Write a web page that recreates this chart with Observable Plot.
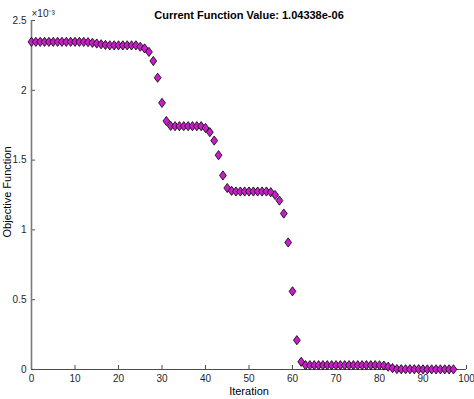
<!DOCTYPE html>
<html>
<head>
<meta charset="utf-8">
<script src="https://cdn.jsdelivr.net/npm/d3@7"></script>
<script src="https://cdn.jsdelivr.net/npm/@observablehq/plot@0.6"></script>
<style>
  html, body { margin: 0; padding: 0; background: #fff; }
  svg { font-family: "Liberation Sans", Arial, sans-serif; }
</style>
</head>
<body>
<div id="chart"></div>
<script>
// Objective function values (in units of 1e-3), iterations 0..97
const objective = [
  2.347, 2.347, 2.347, 2.347, 2.347, 2.347, 2.347, 2.347, 2.347, 2.347,
  2.347, 2.347, 2.347, 2.345, 2.340, 2.335, 2.330, 2.325, 2.322, 2.322,
  2.322, 2.322, 2.322, 2.322, 2.322, 2.312, 2.300, 2.275, 2.210, 2.090,
  1.910, 1.780, 1.745, 1.743, 1.743, 1.743, 1.743, 1.743, 1.743, 1.743,
  1.730, 1.700, 1.640, 1.535, 1.390, 1.300, 1.280, 1.275, 1.275, 1.275,
  1.275, 1.275, 1.275, 1.275, 1.275, 1.270, 1.250, 1.210, 1.117, 0.910,
  0.560, 0.210, 0.055, 0.031, 0.031, 0.031, 0.031, 0.031, 0.031, 0.031,
  0.031, 0.031, 0.031, 0.031, 0.031, 0.031, 0.031, 0.031, 0.031, 0.031,
  0.030, 0.028, 0.020, 0.010, 0.003, 0.002, 0.002, 0.002, 0.002, 0.002,
  0.001, 0.001, 0.001, 0.001, 0.001, 0.001, 0.001, 0.00104
];
const iterations = objective.map((_, i) => i);
const xTicks = [0, 10, 20, 30, 40, 50, 60, 70, 80, 90, 100];
const yTicks = [0, 0.5, 1, 1.5, 2, 2.5];
const yTickLabels = ["0", "0.5", "1", "1.5", "2", "2.5"];
const titleText = "Current Function Value: 1.04338e-06";
const xLabel = "Iteration";
const yLabel = "Objective Function";
const multiplier = "×10⁻³";

const data = iterations.map((it, i) => ({iteration: it, value: objective[i]}));

const diamond = {
  draw(context) {
    context.moveTo(0, -4.6);
    context.lineTo(3.4, 0);
    context.lineTo(0, 4.6);
    context.lineTo(-3.4, 0);
    context.closePath();
  }
};

const W = 474, H = 399, mL = 31, mR = 8, mT = 20, mB = 30;
const plotW = W - mL - mR, plotH = H - mT - mB;
const axisColor = "#4d4d4d";

const chart = Plot.plot({
  width: W,
  height: H,
  marginLeft: mL,
  marginRight: mR,
  marginTop: mT,
  marginBottom: mB,
  style: {fontFamily: "Liberation Sans, Arial, sans-serif", background: "#fff"},
  x: {domain: [0, 100]},
  y: {domain: [0, 2.5]},
  marks: [
    Plot.axisX({ticks: xTicks, tickSize: 0, tickPadding: 5, fontSize: 10, label: null, color: "#262626"}),
    Plot.axisY({ticks: yTicks, tickFormat: (d) => yTickLabels[yTicks.indexOf(d)], tickSize: 0, tickPadding: 5, fontSize: 10, label: null, color: "#262626"}),
    Plot.tickX(xTicks, {x: (d) => d, insetTop: plotH - 4, stroke: axisColor}),
    Plot.tickY(yTicks, {y: (d) => d, insetRight: plotW - 4, stroke: axisColor}),
    Plot.ruleY([0], {x1: 0, x2: 100, stroke: axisColor, strokeWidth: 1}),
    Plot.ruleX([0], {y1: 0, y2: 2.5, stroke: "#7a7a7a", strokeWidth: 1.6}),
    Plot.dot(data, {x: "iteration", y: "value", symbol: diamond, fill: "#c81ec8", stroke: "#000", strokeWidth: 0.8}),
    Plot.text([titleText], {frameAnchor: "top", dy: -9, fontWeight: "bold", fontSize: 11, fill: "#000"}),
    Plot.text([multiplier], {frameAnchor: "top-left", textAnchor: "start", dy: -11, dx: 0, fontSize: 10, fill: "#262626"}),
    Plot.text([xLabel], {frameAnchor: "bottom", dy: 25, fontSize: 11, fill: "#000"}),
    Plot.text([yLabel], {frameAnchor: "left", textAnchor: "middle", rotate: -90, dx: -24, dy: -3, fontSize: 11, fill: "#000"})
  ]
});
document.getElementById("chart").appendChild(chart);
</script>
</body>
</html>
